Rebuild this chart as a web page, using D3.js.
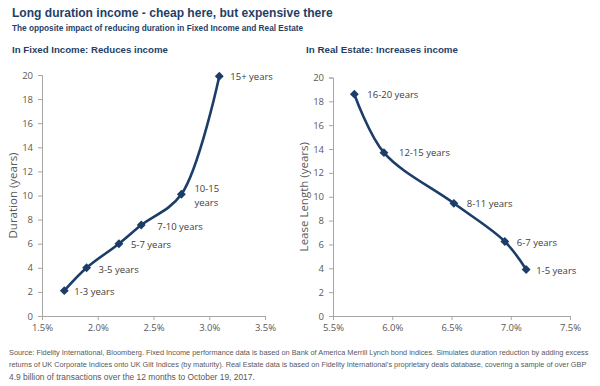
<!DOCTYPE html>
<html><head><meta charset="utf-8">
<script src="https://cdn.jsdelivr.net/npm/d3@7"></script>
<style>body{margin:0;background:#fff}svg{display:block}</style>
</head><body><svg id="c" width="600" height="386"></svg>
<script>
// Data
const fiLabels = ["1-3 years","3-5 years","5-7 years","7-10 years","10-15\nyears","15+ years"];
const fiYield = [1.70, 1.90, 2.19, 2.39, 2.75, 3.09];
const fiDuration = [2.1, 4.0, 6.0, 7.55, 10.1, 19.9];
const reLabels = ["16-20 years","12-15 years","8-11 years","6-7 years","1-5 years"];
const reYield = [5.68, 5.93, 6.52, 6.95, 7.13];
const reLease = [18.6, 13.7, 9.45, 6.25, 3.9];
const fiXTicks = [1.5, 2.0, 2.5, 3.0, 3.5];
const reXTicks = [5.5, 6.0, 6.5, 7.0, 7.5];
const yTicks = [0,2,4,6,8,10,12,14,16,18,20];

const svg = d3.select("#c");
const navy = "#1b3d68";
const titleCol = "#1f3f68";
const tickCol = "#595959";
const axisCol = "#a6a6a6";
const chartFont = "'Open Sans', 'DejaVu Sans', sans-serif";
const headFont = "'Liberation Sans', Arial, sans-serif";

// scale font size so the natural width matches the target width
function fitText(sel, w){
  const node = sel.node();
  const fs = +sel.attr("font-size");
  const len = node.getComputedTextLength();
  if (len > 0) sel.attr("font-size", (fs * w / len).toFixed(2));
}

// Header
svg.append("text").attr("x",12).attr("y",17).attr("font-family",headFont).attr("font-weight","bold")
  .attr("font-size",13).attr("fill",titleCol).text("Long duration income - cheap here, but expensive there")
  .call(fitText, 321);
svg.append("text").attr("x",12).attr("y",30.5).attr("font-family",headFont).attr("font-weight","bold")
  .attr("font-size",9.5).attr("fill",titleCol).text("The opposite impact of reducing duration in Fixed Income and Real Estate")
  .call(fitText, 291);
svg.append("text").attr("x",12).attr("y",53).attr("font-family",headFont).attr("font-weight","bold")
  .attr("font-size",9.5).attr("fill",titleCol).text("In Fixed Income: Reduces income")
  .call(fitText, 156);
svg.append("text").attr("x",306).attr("y",53).attr("font-family",headFont).attr("font-weight","bold")
  .attr("font-size",9.5).attr("fill",titleCol).text("In Real Estate: Increases income")
  .call(fitText, 152);

function drawChart(o){
  const x = d3.scaleLinear().domain([o.xTicks[0], o.xTicks[o.xTicks.length-1]]).range([o.x0, o.x1]);
  const y = d3.scaleLinear().domain([0,20]).range([316, o.yTop]);
  const g = svg.append("g");
  const xa = g.append("g").attr("transform","translate(0,316)")
    .call(d3.axisBottom(x).tickValues(o.xTicks).tickSize(4).tickPadding(4).tickFormat(d=>d.toFixed(1)+"%"));
  const ya = g.append("g").attr("transform",`translate(${o.x0},0)`)
    .call(d3.axisLeft(y).tickValues(yTicks).tickSize(4).tickPadding(5));
  [xa,ya].forEach(a=>{
    a.select(".domain").attr("stroke",axisCol);
    a.selectAll(".tick line").attr("stroke",axisCol);
    a.selectAll("text").attr("fill",tickCol).attr("font-family",chartFont).attr("font-size",9.5);
  });
  g.append("text").attr("transform",`translate(${o.titleX},${(316+o.yTop)/2}) rotate(-90)`)
    .attr("text-anchor","middle").attr("font-family",chartFont).attr("font-size",11.5).attr("fill",tickCol)
    .text(o.yTitle);
  const pts = o.xs.map((v,i)=>[x(v), y(o.ys[i])]);
  g.append("path").attr("d", d3.line().curve(d3.curveCatmullRom.alpha(0.5))(pts))
    .attr("fill","none").attr("stroke",navy).attr("stroke-width",2.6);
  const sym = d3.symbol().type(d3.symbolDiamond2).size(50);
  g.selectAll(".m").data(pts).enter().append("path").attr("d",sym)
    .attr("transform",d=>`translate(${d[0]},${d[1]})`).attr("fill",navy);
  g.selectAll(".l").data(pts).enter().append("text")
    .attr("font-family",chartFont).attr("font-size",9.5).attr("fill","#404040")
    .each(function(d,i){
      const lines = o.labels[i].split("\n");
      const t = d3.select(this);
      const off = o.offs[i];
      lines.forEach((ln,k)=>{
        t.append("tspan").attr("x", d[0]+off[0])
          .attr("y", d[1]+off[1] + 3.5 + (k - (lines.length-1)/2)*13.5).text(ln);
      });
    });
}

drawChart({xTicks:fiXTicks, x0:42, x1:265, yTop:75, xs:fiYield, ys:fiDuration, labels:fiLabels,
  yTitle:"Duration (years)", titleX:17,
  offs:[[10,1],[12,2],[12,1],[16,1],[13,1],[11,0]]});
drawChart({xTicks:reXTicks, x0:333, x1:570, yTop:77.5, xs:reYield, ys:reLease, labels:reLabels,
  yTitle:"Lease Length (years)", titleX:308,
  offs:[[13,0],[15,0],[13,0],[12,1],[10,1]]});

// Footer
const foot = [
 ["Source: Fidelity International, Bloomberg. Fixed Income performance data is based on Bank of America Merrill Lynch bond indices. Simulates duration reduction by adding excess", 580],
 ["returns of UK Corporate Indices onto UK Gilt Indices (by maturity). Real Estate data is based on Fidelity International's proprietary deals database, covering a sample of over GBP", 578],
 ["4.9 billion of transactions over the 12 months to October 19, 2017.", 246]
];
foot.forEach((f,i)=>{
  svg.append("text").attr("x",9).attr("y",355+i*12.3).attr("font-family",headFont)
    .attr("font-size",7.6).attr("fill","#595959").text(f[0]).call(fitText, f[1]);
});
</script></body></html>
